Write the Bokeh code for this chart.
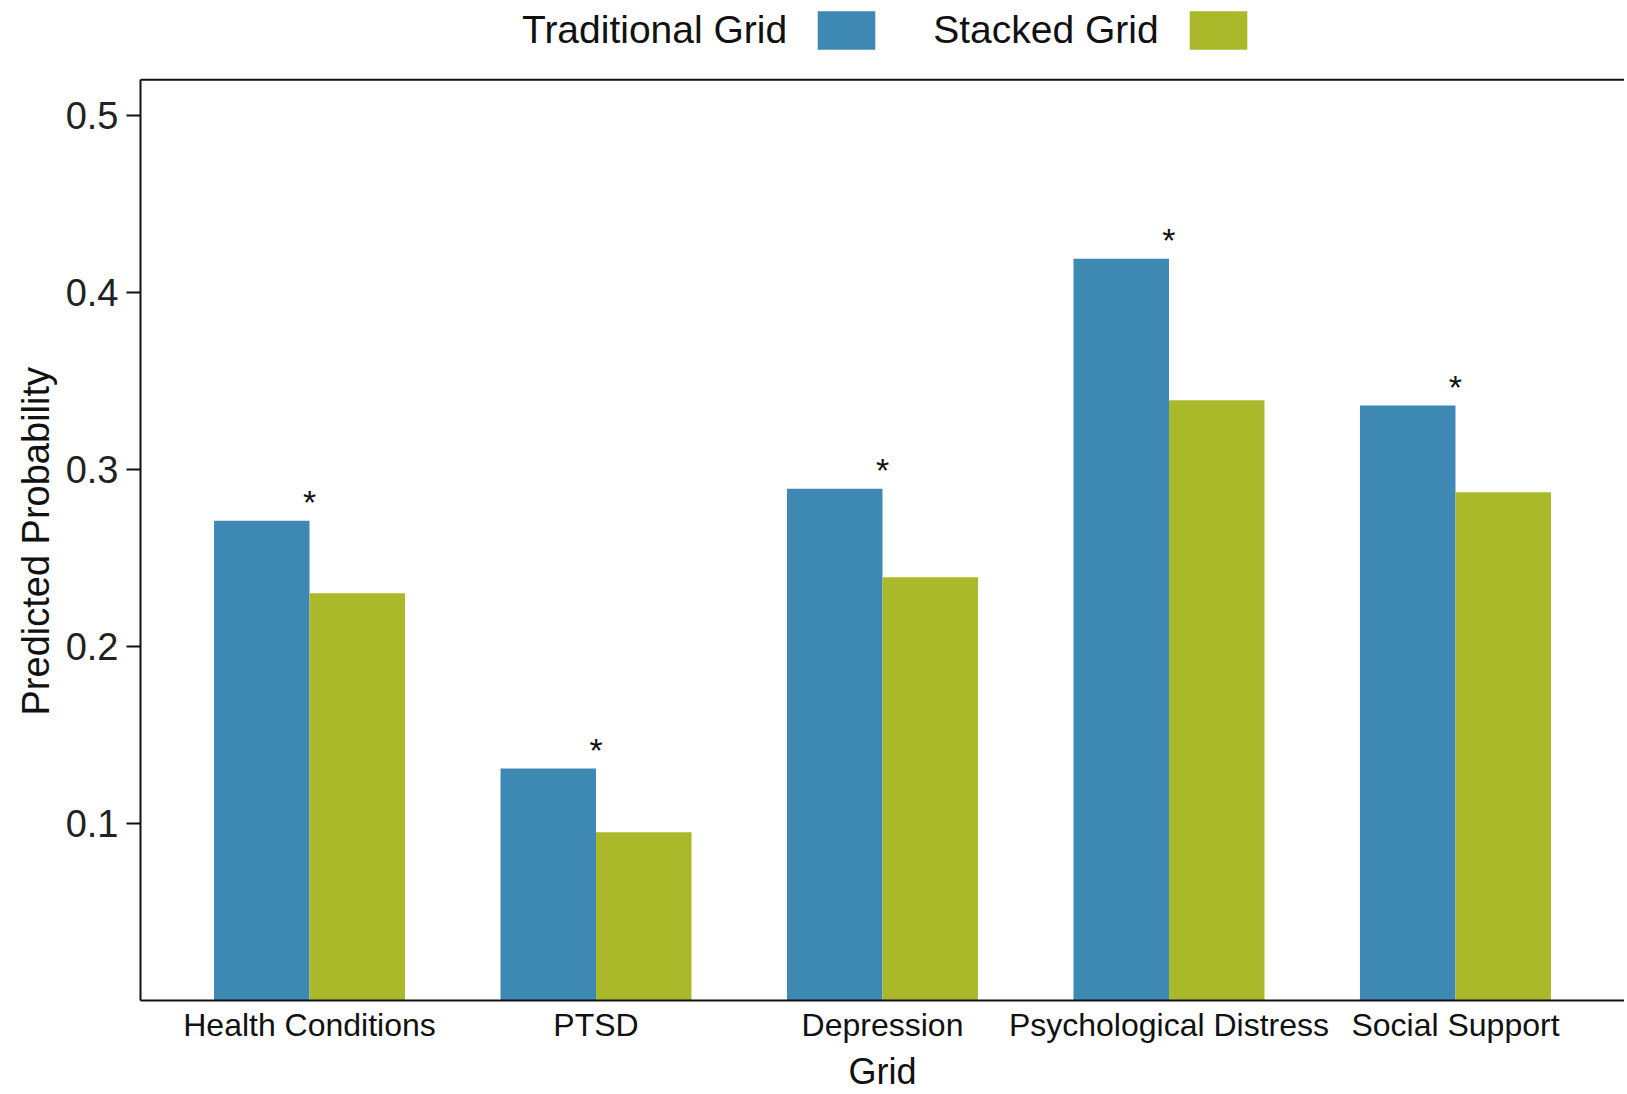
from bokeh.plotting import figure
from bokeh.models import (FixedTicker, Range1d, ColumnDataSource, Span, Title,
                          Legend, LegendItem)
from bokeh.core.properties import value
from bokeh.embed import file_html
from bokeh.resources import INLINE

# ---- data ----
categories = ["Health Conditions", "PTSD", "Depression", "Psychological Distress", "Social Support"]
traditional = [0.271, 0.131, 0.289, 0.419, 0.336]
stacked = [0.230, 0.095, 0.239, 0.339, 0.287]
significant = ["*", "*", "*", "*", "*"]
series_names = ["Traditional Grid", "Stacked Grid"]
y_ticks = [0.1, 0.2, 0.3, 0.4, 0.5]
y_panel_top = 0.52
colors = ["#3E89B4", "#A9B92A"]

FONT = "Liberation Sans"
bar_w = 1.0 / 3.0
xs = list(range(1, len(categories) + 1))

src = ColumnDataSource(dict(
    x=xs,
    x_trad=[x - bar_w / 2 for x in xs],
    x_stk=[x + bar_w / 2 for x in xs],
    trad=traditional,
    stk=stacked,
    star=significant,
))

# the frame reaches the top of the canvas so the legend can sit above the panel
p = figure(width=1624, height=1094,
           x_range=Range1d(0.41, 5.59), y_range=Range1d(0, 0.5648),
           output_backend="svg", toolbar_location=None,
           min_border_left=140, min_border_right=0,
           min_border_top=0, min_border_bottom=89)
p.outline_line_color = None
p.grid.visible = False
p.background_fill_color = "white"
p.border_fill_color = "white"

r_trad = p.vbar(x="x_trad", top="trad", width=bar_w, bottom=0, source=src,
                fill_color=colors[0], line_color=None)
r_stk = p.vbar(x="x_stk", top="stk", width=bar_w, bottom=0, source=src,
               fill_color=colors[1], line_color=None)

p.text(x="x", y="trad", text="star", source=src, text_align="center",
       text_baseline="bottom", text_font=value(FONT), text_font_size="34px",
       text_color="#111111", y_offset=0)

# top border of the panel
p.add_layout(Span(location=y_panel_top, dimension="width",
                  line_color="#111111", line_width=2))

# axes
xa = p.xaxis[0]
xa.ticker = FixedTicker(ticks=xs)
xa.major_label_overrides = {x: c for x, c in zip(xs, categories)}
xa.major_label_text_font = FONT
xa.major_label_text_font_size = "32px"
xa.major_label_text_color = "#111111"
xa.major_label_standoff = 6
xa.major_tick_out = 0
xa.major_tick_in = 0
xa.major_tick_line_color = None
xa.minor_tick_line_color = None
xa.axis_line_width = 2
xa.axis_line_color = "#111111"
xa.axis_label = "Grid"
xa.axis_label_text_font = FONT
xa.axis_label_text_font_size = "36px"
xa.axis_label_text_font_style = "normal"
xa.axis_label_text_color = "#111111"
xa.axis_label_standoff = 5

ya = p.yaxis[0]
ya.bounds = (0, y_panel_top)
ya.ticker = FixedTicker(ticks=y_ticks)
ya.major_label_text_font = FONT
ya.major_label_text_font_size = "38px"
ya.major_label_text_color = "#222222"
ya.major_label_standoff = 8
ya.major_tick_out = 14
ya.major_tick_in = 0
ya.major_tick_line_width = 2
ya.major_tick_line_color = "#111111"
ya.minor_tick_line_color = None
ya.axis_line_width = 2
ya.axis_line_color = "#111111"
ya.axis_label = None

# y-axis title, centred on the panel (not on the taller frame)
p.add_layout(Title(text="Predicted Probability", align="left", offset=285,
                   text_font=FONT, text_font_size="38px", text_font_style="normal",
                   text_color="#111111", standoff=11), "left")

# legend: text sits to the left of each swatch, as in the original
legend = Legend(items=[
    LegendItem(label=series_names[0], renderers=[]),
    LegendItem(label=series_names[1], renderers=[r_trad]),
    LegendItem(label=" ", renderers=[r_stk]),
], orientation="horizontal", location=(259, 946),
    glyph_width=72, glyph_height=48, label_standoff=51, spacing=23,
    label_width=0, padding=0, margin=0,
    border_line_color=None, background_fill_alpha=0,
    label_text_font=FONT, label_text_font_size="39px", label_text_color="#111111")
p.add_layout(legend, "center")

open("out.html", "w").write(file_html(p, INLINE))
